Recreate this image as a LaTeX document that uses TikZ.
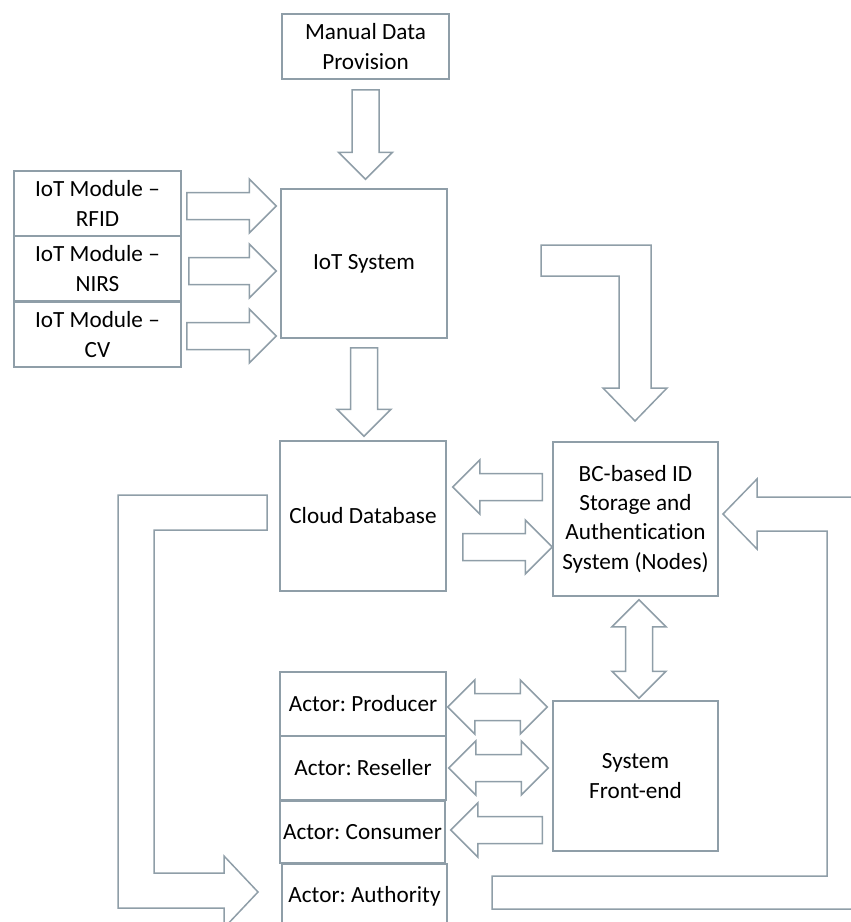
\documentclass[tikz,border=0pt]{standalone}
\usepackage{fontspec}
\setmainfont{Carlito}[Ligatures=NoCommon]
\frenchspacing
\usetikzlibrary{calc}
\definecolor{boxgray}{RGB}{143,158,168}
\tikzset{
  box/.style={draw=boxgray, line width=1.5pt, rectangle, align=center, inner sep=1pt,
    font=\fontsize{23.2}{29.3}\selectfont},
  blkline/.style={draw=boxgray, line width=1.5pt, line join=miter},
}
% length and angle from #1 to #2
\newcommand\blkgeom[2]{\path let \p1=($(#2)-(#1)$), \n1={veclen(\x1,\y1)}, \n2={atan2(\y1,\x1)} in
  \pgfextra{\pgfmathparse{\n1}\xdef\blklen{\pgfmathresult}\pgfmathparse{\n2}\xdef\blkang{\pgfmathresult}};}
% 13.5 = half shaft, 27 = half head = head length
\newcommand\blk[2]{\blkgeom{#1}{#2}
  \draw[blkline, shift={(#1)}, rotate=\blkang, x=1pt, y=1pt]
    (0,13.5) -- (\blklen-27,13.5) -- (\blklen-27,27) -- (\blklen,0)
    -- (\blklen-27,-27) -- (\blklen-27,-13.5) -- (0,-13.5) -- cycle;}
\newcommand\dblk[2]{\blkgeom{#1}{#2}
  \draw[blkline, shift={(#1)}, rotate=\blkang, x=1pt, y=1pt]
    (27,13.5) -- (\blklen-27,13.5) -- (\blklen-27,27) -- (\blklen,0)
    -- (\blklen-27,-27) -- (\blklen-27,-13.5) -- (27,-13.5) -- (27,-27)
    -- (0,0) -- (27,27) -- cycle;}
\begin{document}
\begin{tikzpicture}[x=1pt,y=-1pt]
\clip (0,0) rectangle (851,922);
\useasboundingbox (0,0) rectangle (851,922);
% boxes
\node[box, minimum width=167pt, minimum height=65pt] (manual) at (365.5,46.5) {Manual Data\\Provision};
\node[box, minimum width=166pt, minimum height=149pt] (iot) at (364,263.5) {IoT System};
\node[box, minimum width=167pt, minimum height=65pt] (rfid) at (97.5,203.5) {IoT Module --\\RFID};
\node[box, minimum width=167pt, minimum height=65pt] (nirs) at (97.5,268.5) {IoT Module --\\NIRS};
\node[box, minimum width=167pt, minimum height=65pt] (cv) at (97.5,334.5) {IoT Module --\\CV};
\node[box, minimum width=166pt, minimum height=150pt] (cloud) at (363,516) {Cloud Database};
\node[box, minimum width=165pt, minimum height=154pt] (bc) at (635.5,519) {BC-based ID\\Storage and\\Authentication\\System (Nodes)};
\node[box, minimum width=165pt, minimum height=150pt] (front) at (635.5,776) {System\\Front-end};
\node[box, minimum width=166pt, minimum height=64pt] (producer) at (363,704) {Actor: Producer};
\node[box, minimum width=166pt, minimum height=64pt] (reseller) at (363,768) {Actor: Reseller};
\node[box, minimum width=165pt, minimum height=62pt] (consumer) at (362.5,832) {Actor: Consumer};
\node[box, minimum width=165pt, minimum height=64pt] (authority) at (364.5,896) {Actor: Authority};
% arrow ends
\coordinate (a1) at ($(manual.south)+(0,10)$);
\coordinate (a2) at ($(a1 |- iot.north)+(0,-9)$);
\coordinate (b1) at ($(rfid.east)+(5,2.5)$);
\coordinate (b2) at ($(b1 -| iot.west)+(-4,0)$);
\coordinate (c1) at ($(nirs.east)+(7,2.5)$);
\coordinate (c2) at ($(c1 -| iot.west)+(-4,0)$);
\coordinate (d1) at ($(cv.east)+(5,1.5)$);
\coordinate (d2) at ($(d1 -| iot.west)+(-4,0)$);
\coordinate (e1) at ($(iot.south)+(0,9)$);
\coordinate (e2) at ($(e1 |- cloud.north)+(0,-4)$);
\coordinate (f1) at ($(bc.west)+(-10,-32)$);
\coordinate (f2) at ($(f1 -| cloud.east)+(6,0)$);
\coordinate (g1) at ($(cloud.east)+(16,31)$);
\coordinate (g2) at (g1 -| bc.west);
\coordinate (h1) at ($(bc.south)+(3.5,3)$);
\coordinate (h2) at ($(h1 |- front.north)+(0,-2)$);
\coordinate (i1) at ($(producer.east)+(1,3)$);
\coordinate (i2) at ($(i1 -| front.west)+(-5,0)$);
\coordinate (j1) at ($(reseller.east)+(2,0)$);
\coordinate (j2) at ($(j1 -| front.west)+(-4,0)$);
\coordinate (k1) at ($(front.west)+(-10,54)$);
\coordinate (k2) at ($(k1 -| consumer.east)+(5,0)$);
% straight block arrows
\blk{a1}{a2}
\blk{b1}{b2}
\blk{c1}{c2}
\blk{d1}{d2}
\blk{e1}{e2}
\blk{f1}{f2}
\blk{g1}{g2}
\dblk{h1}{h2}
\dblk{i1}{i2}
\dblk{j1}{j2}
\blk{k1}{k2}
% bent block arrows
\draw[blkline] (541,245) -- (651,245) -- (651,388) -- (667,388) -- (635,421)
  -- (603,388) -- (619,388) -- (619,276) -- (541,276) -- cycle;
\draw[blkline] (267,495) -- (118,495) -- (118,908) -- (224,908) -- (224,928)
  -- (258,892) -- (224,856) -- (224,873) -- (154,873) -- (154,530) -- (267,530) -- cycle;
\draw[blkline] (723,514) -- (757,479) -- (757,497) -- (862,497) -- (862,909)
  -- (492,909) -- (492,876) -- (827,876) -- (827,531) -- (757,531) -- (757,549) -- cycle;
\end{tikzpicture}
\end{document}
